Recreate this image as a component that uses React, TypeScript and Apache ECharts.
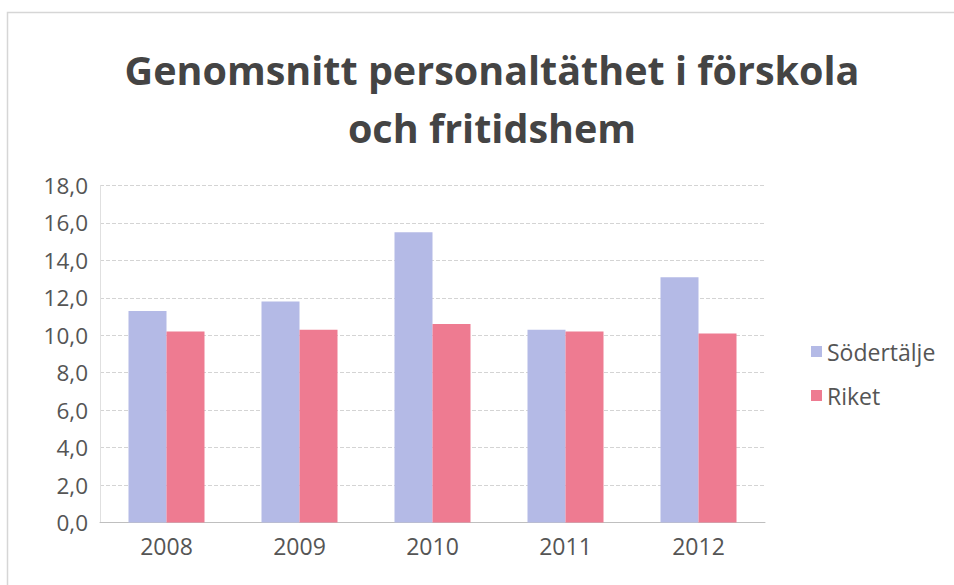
import React, { useEffect, useRef } from "react";
import * as echarts from "echarts";

const categories = ["2008", "2009", "2010", "2011", "2012"];
const sodertalje = [11.3, 11.8, 15.5, 10.3, 13.1];
const riket = [10.2, 10.3, 10.6, 10.2, 10.1];
const yTicks = [0, 2, 4, 6, 8, 10, 12, 14, 16, 18];

export default function App() {
  const ref = useRef<HTMLDivElement>(null);
  useEffect(() => {
    if (!ref.current) return;
    const chart = echarts.init(ref.current, null, { renderer: "svg" });
    const font = "'Open Sans', Lato, sans-serif";
    chart.setOption({
      animation: false,
      backgroundColor: "#ffffff",
      title: {
        text: "Genomsnitt personaltäthet i förskola\noch fritidshem",
        left: 487,
        textAlign: "center",
        top: 36,
        textStyle: {
          fontFamily: font,
          fontWeight: "bold",
          fontSize: 39.5,
          lineHeight: 58,
          color: "#444444",
        },
      },
      graphic: [
        {
          type: "rect",
          shape: { x: 7.5, y: 12.5, width: 960, height: 600 },
          style: { fill: "none", stroke: "#d6d6d6", lineWidth: 1.5 },
        },
      ],
      legend: {
        orient: "vertical",
        left: 806,
        top: 335,
        itemWidth: 11,
        itemHeight: 11,
        itemGap: 21,
        icon: "rect",
        textStyle: { fontFamily: font, fontSize: 23, color: "#555555" },
        data: ["Södertälje", "Riket"],
      },
      grid: { left: 100, right: 189, top: 185.5, bottom: 62.5, containLabel: false },
      xAxis: {
        type: "category",
        data: categories,
        axisLine: { lineStyle: { color: "#bfbfbf" } },
        axisTick: { show: false },
        axisLabel: { fontFamily: font, fontSize: 23, color: "#555555", margin: 12 },
      },
      yAxis: {
        type: "value",
        min: 0,
        max: 18,
        interval: 2,
        axisLine: { show: true, lineStyle: { color: "#e0e0e0" } },
        axisTick: { show: false },
        splitLine: { lineStyle: { color: "#d4d4d4", type: "dashed" } },
        axisLabel: {
          fontFamily: font,
          fontSize: 22.5,
          color: "#555555",
          margin: 12,
          formatter: (v: number) => (yTicks.includes(v) ? v.toFixed(1).replace(".", ",") : ""),
        },
      },
      series: [
        {
          name: "Södertälje",
          type: "bar",
          data: sodertalje,
          barWidth: 38,
          barGap: "0%",
          itemStyle: { color: "#b4bae6" },
        },
        {
          name: "Riket",
          type: "bar",
          data: riket,
          barWidth: 38,
          itemStyle: { color: "#ee7b91" },
        },
      ],
    });
    return () => chart.dispose();
  }, []);
  return (
    <div style={{ position: "fixed", left: 0, top: 0, width: 954, height: 585 }}>
      <div ref={ref} style={{ width: 954, height: 585 }} />
    </div>
  );
}
